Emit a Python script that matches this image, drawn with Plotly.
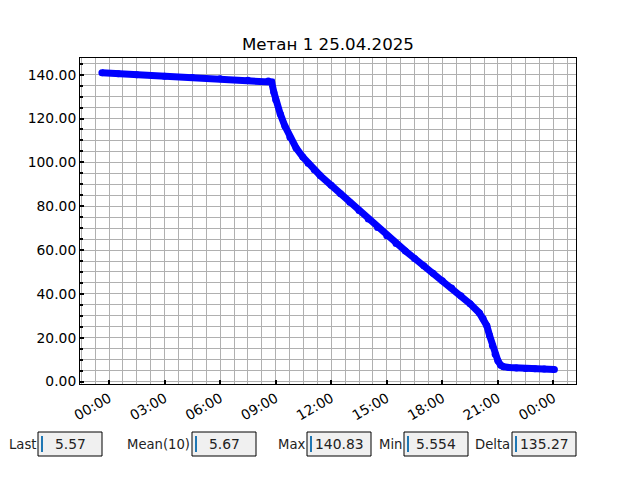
import plotly.graph_objects as go

# readings taken off the chart (time, value)
times = ['2025-04-24 23:37', '2025-04-25 00:30', '2025-04-25 01:30', '2025-04-25 03:00',
         '2025-04-25 04:30', '2025-04-25 06:00', '2025-04-25 07:30', '2025-04-25 08:36',
         '2025-04-25 08:47', '2025-04-25 08:54', '2025-04-25 09:00', '2025-04-25 09:15',
         '2025-04-25 09:30', '2025-04-25 09:46', '2025-04-25 10:06', '2025-04-25 10:28',
         '2025-04-25 10:45', '2025-04-25 11:05', '2025-04-25 11:24', '2025-04-25 12:00',
         '2025-04-25 12:30', '2025-04-25 13:00', '2025-04-25 13:30', '2025-04-25 14:00',
         '2025-04-25 14:30', '2025-04-25 15:00', '2025-04-25 15:30', '2025-04-25 16:00',
         '2025-04-25 16:30', '2025-04-25 17:00', '2025-04-25 17:30', '2025-04-25 18:00',
         '2025-04-25 18:30', '2025-04-25 19:00', '2025-04-25 19:30', '2025-04-25 20:00',
         '2025-04-25 20:12', '2025-04-25 20:24', '2025-04-25 20:33', '2025-04-25 20:42',
         '2025-04-25 20:51', '2025-04-25 21:00', '2025-04-25 21:09', '2025-04-25 21:18',
         '2025-04-25 21:36', '2025-04-25 22:00', '2025-04-25 22:30', '2025-04-25 23:00',
         '2025-04-25 23:30', '2025-04-26 00:03']
values = [140.83, 140.4, 140.0, 139.3,
          138.7, 138.1, 137.5, 137.1,
          136.6, 132.0, 128.5, 122.0,
          116.5, 111.5, 106.6, 102.4,
          99.6, 96.6, 94.0, 89.5,
          85.7, 81.8, 78.0, 74.2,
          70.3, 66.5, 63.0, 59.6,
          56.2, 52.8, 49.4, 46.0,
          42.7, 39.2, 35.5, 31.3,
          28.8, 25.5, 21.0, 16.5,
          12.5, 9.5, 7.5, 6.8,
          6.4, 6.2, 6.0, 5.85,
          5.7, 5.57]

stat_labels = ['Last', 'Mean(10)', 'Max', 'Min', 'Delta']
stat_values = ['5.57', '5.67', '140.83', '5.554', '135.27']

FONT = 'DejaVu Sans'
SMALL = 13.89  # 10pt at 100 dpi
BIG = 16.67    # 12pt
BOXF = 13.2    # stat labels, a touch smaller so "Last" fits inside the page

fig = go.Figure(go.Scatter(x=times, y=values, mode='lines+markers',
                           line=dict(color='#0000ff', width=7),
                           marker=dict(color='#0000ff', size=7)))

grid = dict(showgrid=True, gridcolor='#b0b0b0', gridwidth=1)
fig.update_xaxes(type='date', range=['2025-04-24 22:26', '2025-04-26 01:13'],
                 tick0='2025-04-25 00:00', dtick=3 * 3600000, tickformat='%H:%M',
                 tickangle=-30, ticks='inside', ticklen=4, tickwidth=2, tickcolor='black',
                 minor=dict(dtick=2700000, tick0='2025-04-25 00:00', **grid),
                 showline=True, linecolor='black', linewidth=1, mirror=True,
                 zeroline=False, **grid)
fig.update_yaxes(range=[-1.1, 147.6], dtick=20, tick0=0, tickformat='.2f',
                 ticks='inside', ticklen=4, tickwidth=2, tickcolor='black',
                 minor=dict(dtick=5, tick0=0, ticks='inside', ticklen=3, tickcolor='black', **grid),
                 showline=True, linecolor='black', linewidth=1, mirror=True,
                 zeroline=False, **grid)

# page body adds an 8px offset, so the figure is 8px smaller and margins shifted
fig.update_layout(width=632, height=472, showlegend=False,
                  margin=dict(l=72, r=64, t=50, b=96),
                  plot_bgcolor='white', paper_bgcolor='white',
                  font=dict(family=FONT, size=SMALL, color='black'),
                  title=dict(text='Метан 1 25.04.2025', x=0.5, xref='paper',
                             y=1 - 36 / 472, yanchor='middle',
                             font=dict(family=FONT, size=BIG, color='black')))

# stat boxes under the chart, positioned in screen pixels -> paper coords
box_left = [38, 192, 307, 404, 512]
box_w = 64
box_top, box_bot = 432, 456
pw, ph = 496, 326


def px(x):
    return (x - 80) / pw


def py(y):
    return (384 - y) / ph


for lab, val, bl in zip(stat_labels, stat_values, box_left):
    fig.add_shape(type='rect', xref='paper', yref='paper',
                  x0=px(bl), x1=px(bl + box_w), y0=py(box_bot), y1=py(box_top),
                  fillcolor='#f0f0f0', line=dict(color='black', width=1))
    fig.add_shape(type='line', xref='paper', yref='paper',
                  x0=px(bl + 4), x1=px(bl + 4), y0=py(452), y1=py(436),
                  line=dict(color='#1f77b4', width=2))
    fig.add_annotation(x=px(bl - 0.5), y=py(444), xref='paper', yref='paper',
                       text=lab, showarrow=False, xanchor='right', yanchor='middle',
                       font=dict(family=FONT, size=BOXF, color='#222222'))
    fig.add_annotation(x=px(bl + box_w / 2), y=py(444), xref='paper', yref='paper',
                       text=val, showarrow=False, xanchor='center', yanchor='middle',
                       font=dict(family=FONT, size=SMALL, color='#222222'))

fig.write_html("out.html")
